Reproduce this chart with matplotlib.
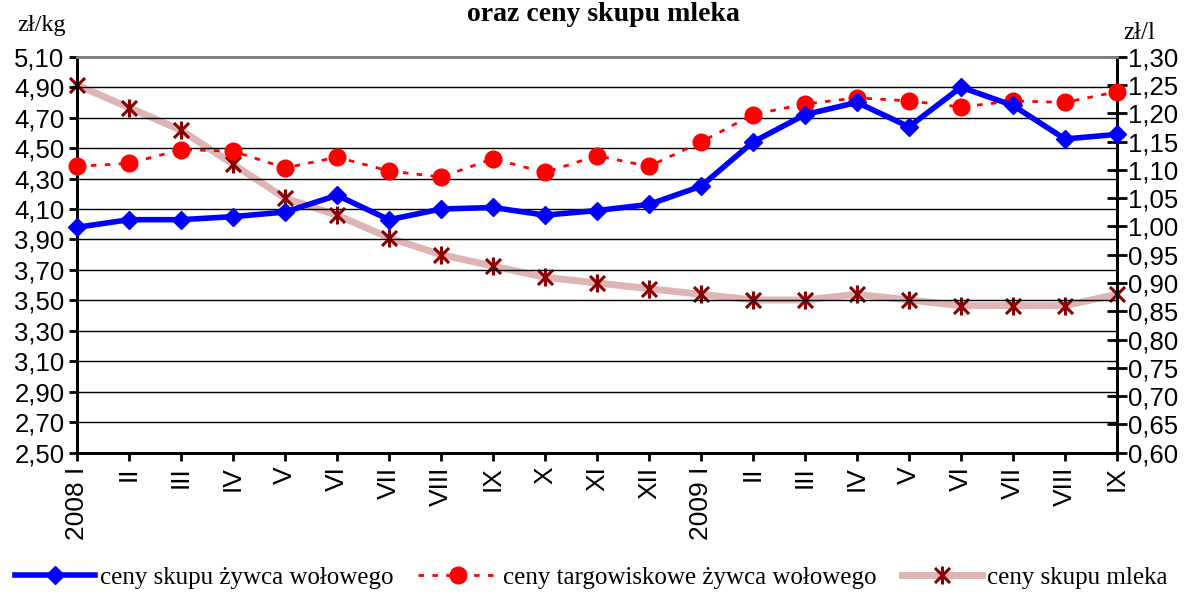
import numpy as np
import matplotlib
matplotlib.use("Agg")
import matplotlib.pyplot as plt
from matplotlib.path import Path

# miesiace 2008 I - 2009 IX
months = ['2008 I', 'II', 'III', 'IV', 'V', 'VI', 'VII', 'VIII', 'IX', 'X', 'XI', 'XII',
          '2009 I', 'II', 'III', 'IV', 'V', 'VI', 'VII', 'VIII', 'IX']

# zl/kg (lewa os)
skup_zywca = [3.98, 4.03, 4.03, 4.05, 4.08, 4.19, 4.03, 4.10, 4.11, 4.06, 4.09, 4.13,
              4.25, 4.54, 4.72, 4.80, 4.64, 4.90, 4.78, 4.56, 4.59]
targowiskowe = [4.38, 4.40, 4.49, 4.48, 4.37, 4.44, 4.35, 4.31, 4.43, 4.34, 4.45, 4.38,
                4.54, 4.72, 4.79, 4.83, 4.81, 4.77, 4.81, 4.80, 4.87]
# zl/l (prawa os)
skup_mleka = [1.25, 1.21, 1.17, 1.11, 1.05, 1.02, 0.98, 0.95, 0.93, 0.91, 0.90, 0.89,
              0.88, 0.87, 0.87, 0.88, 0.87, 0.86, 0.86, 0.86, 0.88]

left_ticks = np.arange(2.50, 5.101, 0.20)
right_ticks = np.arange(0.60, 1.301, 0.05)

def fmt(v):
    return f"{v:.2f}".replace('.', ',')

# excel-like star marker: X with vertical bar
star = Path([(-1, -1), (1, 1), (-1, 1), (1, -1), (0, -1.2), (0, 1.2)],
            [Path.MOVETO, Path.LINETO, Path.MOVETO, Path.LINETO, Path.MOVETO, Path.LINETO])

fig = plt.figure(figsize=(11.87, 5.94), dpi=100)
ax = fig.add_axes([0.0649, 0.2379, 0.8761, 0.6666])
ax2 = ax.twinx()

x = np.arange(len(months))

for v in left_ticks[1:-1]:
    ax.axhline(v, color='black', lw=1.0, zorder=0)

l1, = ax.plot(x, skup_zywca, color='#0000ff', lw=4, marker='D', ms=9, zorder=4, clip_on=False)
l2, = ax.plot(x, targowiskowe, color='#ff0000', lw=2, ls=(0, (2, 3)), marker='o', ms=12,
              zorder=3, clip_on=False)
l3, = ax2.plot(x, skup_mleka, color='#dfb4b4', lw=5, marker=star, ms=13, mec='#8b0000',
               mfc='none', mew=2.2, clip_on=False)

ax.set_zorder(ax2.get_zorder() + 1)
ax.patch.set_visible(False)

ax.set_xlim(0, len(months) - 1)
ax.set_ylim(2.50, 5.10)
ax2.set_ylim(0.60, 1.30)
ax.set_yticks(left_ticks)
ax.set_yticklabels([fmt(v) for v in left_ticks])
ax2.set_yticks(right_ticks)
ax2.set_yticklabels([fmt(v) for v in right_ticks])
ax.set_xticks(x)
ax.set_xticklabels(months, rotation=90, va='top', ha='center')

for a in (ax, ax2):
    a.spines['top'].set_color('#808080')
    a.spines['top'].set_linewidth(2)
    a.spines['left'].set_linewidth(2)
    a.spines['right'].set_linewidth(2)
    a.spines['bottom'].set_linewidth(2)

ax.tick_params(axis='y', direction='out', length=6, width=2, labelsize=18.5, pad=3)
ax.tick_params(axis='x', direction='out', length=6, width=2, labelsize=19, pad=4)
ax2.tick_params(axis='y', direction='inout', length=14, width=2, labelsize=18.5, pad=1)
for t in ax.get_yticklabels() + ax2.get_yticklabels() + ax.get_xticklabels():
    t.set_family('Liberation Sans')

fig.text(0.0143, 0.957, 'zł/kg', family='Liberation Serif', fontsize=17.5, va='center', ha='left')
fig.text(0.946, 0.945, 'zł/l', family='Liberation Serif', fontsize=18, va='center', ha='left')
fig.text(0.508, 0.976, 'oraz ceny skupu mleka', family='Liberation Serif', fontsize=20,
         fontweight='bold', va='center', ha='center')

fig.legend([l1, l2, l3], ['ceny skupu żywca wołowego', 'ceny targowiskowe żywca wołowego',
                          'ceny skupu mleka'],
           loc='center', bbox_to_anchor=(0.498, 0.027), ncol=3, frameon=False,
           prop={'family': 'Liberation Serif', 'size': 18}, handlelength=3.2,
           columnspacing=1.0, handletextpad=0.2, borderaxespad=0)

fig.savefig('out.png', dpi=100)
